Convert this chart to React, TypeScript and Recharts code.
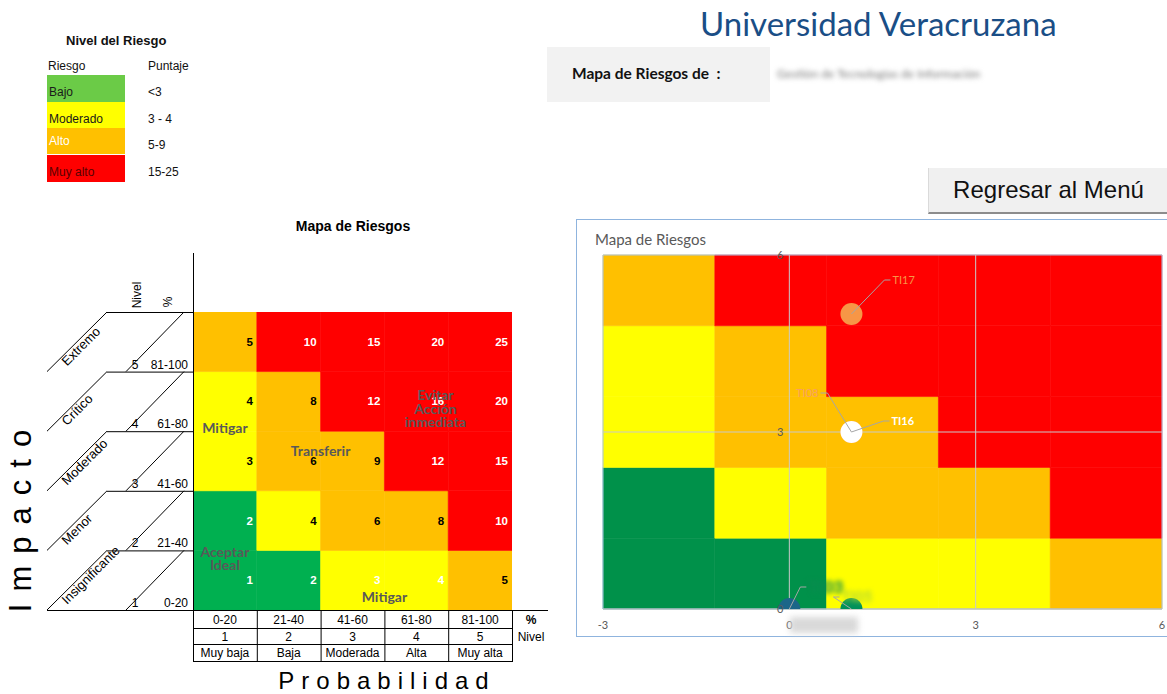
import React from 'react';
import {
  ScatterChart,
  Scatter,
  XAxis,
  YAxis,
  ReferenceArea,
  ReferenceLine,
  ReferenceDot,
} from 'recharts';

// ---- data ----
const levels = [1, 2, 3, 4, 5];
const impactNames = ['Insignificante', 'Menor', 'Moderado', 'Crítico', 'Extremo'];
const rangeLabels = ['0-20', '21-40', '41-60', '61-80', '81-100'];
const probNames = ['Muy baja', 'Baja', 'Moderada', 'Alta', 'Muy alta'];

// zone of each cell: rows = impact 1..5, cols = probability 1..5
const zoneRows = [
  ['bajo', 'bajo', 'moderado', 'moderado', 'alto'],
  ['bajo', 'moderado', 'alto', 'alto', 'muyAlto'],
  ['moderado', 'alto', 'alto', 'muyAlto', 'muyAlto'],
  ['moderado', 'alto', 'muyAlto', 'muyAlto', 'muyAlto'],
  ['alto', 'muyAlto', 'muyAlto', 'muyAlto', 'muyAlto'],
];
// scores printed white on a yellow cell
const whiteOnYellow = ['3-1', '4-1'];

const legendLabels = ['Bajo', 'Moderado', 'Alto', 'Muy alto'];
const legendScores = ['<3', '3 - 4', '5-9', '15-25'];

const actionNotes = [
  { text: 'Mitigar', x: 0.5, y: 3.05 },
  { text: 'Transferir', x: 2.0, y: 2.67 },
  { text: 'Evitar', x: 3.8, y: 3.6 },
  { text: 'Acción', x: 3.8, y: 3.38 },
  { text: 'inmediata', x: 3.8, y: 3.16 },
  { text: 'Aceptar', x: 0.5, y: 0.98 },
  { text: 'Ideal', x: 0.5, y: 0.75 },
  { text: 'Mitigar', x: 3.0, y: 0.22 },
];

// right-hand chart: block edges and risks
const xEdges = [-3, -1.2, 0.6, 2.4, 4.2, 6];
const yEdges = [0, 1.2, 2.4, 3.6, 4.8, 6];
const xTicks = [-3, 0, 3, 6];
const yTicks = [0, 3, 6];

const risks = [
  { id: 'TI17', prob: 1, impact: 5, color: '#F79646' },
  { id: 'TI08', prob: 1, impact: 3, color: '#F79646' },
  { id: 'TI16', prob: 1, impact: 3, color: '#FFFFFF' },
  { id: 'TI03', prob: 0, impact: 0, color: '#1B6688' },
  { id: 'TI05', prob: 1, impact: 0, color: '#00915A' },
];

// ---- styling ----
const zoneFill: Record<string, string> = {
  bajo: '#00B050',
  moderado: '#FFFF00',
  alto: '#FFC000',
  muyAlto: '#FF0000',
};
const zoneFillRight: Record<string, string> = { ...zoneFill, bajo: '#00914A' };
const legendFill = ['#6BCB47', '#FFFF00', '#FFC000', '#FF0000'];
const legendText = ['#1a1a1a', '#1a1a1a', '#FFFFFF', '#5a0000'];
const legendTop = [75, 102, 128, 155];
const legendTextTop = [85, 112, 134, 165];

const labelPlacement: Record<string, any> = {
  TI17: { dx: 33, dy: -34, color: '#F79646', weight: 400, size: 11 },
  TI16: { dx: 32, dy: -11, color: '#FFFFFF', weight: 700, size: 11 },
  TI08: { dx: -24, dy: -39, color: '#F8A060', weight: 400, size: 11, left: true },
  TI03: { dx: 11, dy: -22, color: '#0a8a50', weight: 900, size: 17, blur: true },
  TI05: { dx: -18, dy: -12, color: '#b5d930', weight: 900, size: 15, blur: true },
};

const arial = '"Liberation Sans", Arial, sans-serif';
const calibri = 'Lato, "Open Sans", sans-serif';

const ROW_H = 298 / 5;
const COL_W = 319 / 5;
const GRID_L = 193;
const GRID_T = 312;

// cell centres, used only to give the left matrix a data series
const cellCentres = levels.flatMap(impact =>
  levels.map(prob => ({ x: prob - 0.5, y: impact - 0.5 }))
);

function RiskDot(props: any) {
  const { cx, cy, payload } = props;
  if (cx == null || cy == null) return null;
  return <circle cx={cx} cy={cy} r={11} fill={payload.color} />;
}

function RiskLabel(props: any) {
  const { cx, cy, payload } = props;
  if (cx == null || cy == null) return null;
  const p = labelPlacement[payload.id];
  const ex = cx + p.dx;
  const ey = cy + p.dy;
  const hx = p.left ? ex - 7 : ex + 6;
  return (
    <g>
      <polyline
        points={`${cx},${cy} ${ex},${ey} ${hx},${ey}`}
        fill="none"
        stroke="#A6A6A6"
        strokeWidth={1}
      />
      <text
        x={p.left ? hx - 2 : hx + 2}
        y={ey}
        dy="0.35em"
        textAnchor={p.left ? 'end' : 'start'}
        fill={p.color}
        fontSize={p.size}
        fontWeight={p.weight}
        fontFamily={calibri}
        style={p.blur ? { filter: 'blur(2.5px)' } : undefined}
      >
        {payload.id}
      </text>
    </g>
  );
}

const NoMark = () => <g />;

function LeftMatrix() {
  return (
    <div style={{ position: 'absolute', left: GRID_L, top: GRID_T }}>
      <ScatterChart width={319} height={298} margin={{ top: 0, right: 0, bottom: 0, left: 0 }}>
        <XAxis type="number" dataKey="x" domain={[0, 5]} hide />
        <YAxis type="number" dataKey="y" domain={[0, 5]} hide />
        {zoneRows.map((row, ri) =>
          row.map((zone, ci) => {
            const impact = levels[ri];
            const prob = levels[ci];
            const white =
              zone === 'bajo' || zone === 'muyAlto' || whiteOnYellow.includes(`${prob}-${impact}`);
            return (
              <ReferenceArea
                key={`${ri}-${ci}`}
                x1={prob - 1}
                x2={prob}
                y1={impact - 1}
                y2={impact}
                fill={zoneFill[zone]}
                fillOpacity={1}
                stroke={zoneFill[zone]}
                strokeWidth={0.6}
                label={{
                  value: prob * impact,
                  position: 'insideRight',
                  offset: 4,
                  fill: white ? '#FFFFFF' : '#000000',
                  fontSize: 11.5,
                  fontWeight: 700,
                  fontFamily: arial,
                }}
              />
            );
          })
        )}
        {actionNotes.map((n, i) => (
          <ReferenceDot
            key={i}
            x={n.x}
            y={n.y}
            r={0}
            stroke="none"
            label={{
              value: n.text,
              position: 'center',
              fill: '#595959',
              fontSize: 14,
              fontWeight: 700,
              fontFamily: calibri,
            }}
          />
        ))}
        <Scatter data={cellCentres} shape={NoMark} isAnimationActive={false} />
      </ScatterChart>
    </div>
  );
}

function LeftFrame() {
  const rows = levels.map((lv, i) => {
    const yt = GRID_T + (4 - i) * ROW_H;
    return { lv, i, yt, yb: yt + ROW_H };
  });
  const tableRows = [628, 644, 661];
  return (
    <svg
      width={1167}
      height={694}
      style={{ position: 'absolute', left: 0, top: 0, pointerEvents: 'none' }}
      fontFamily={arial}
    >
      <line x1={193.5} y1={253} x2={193.5} y2={661} stroke="#000" />
      {rows.map(r => (
        <g key={r.lv}>
          <line x1={107} y1={r.yt + 0.5} x2={193} y2={r.yt + 0.5} stroke="#000" />
          <line x1={107} y1={r.yt} x2={47} y2={r.yb} stroke="#000" />
          <line x1={184} y1={r.yt} x2={126} y2={r.yb} stroke="#000" />
          <text
            x={67}
            y={r.yb - 5}
            fontSize={13}
            transform={`rotate(-45 67 ${r.yb - 5})`}
          >
            {impactNames[r.i]}
          </text>
          <text x={135} y={r.yb - 3} fontSize={12} textAnchor="middle">
            {r.lv}
          </text>
          <text x={188} y={r.yb - 3} fontSize={12} textAnchor="end">
            {rangeLabels[r.i]}
          </text>
        </g>
      ))}
      <line x1={47} y1={610.5} x2={548} y2={610.5} stroke="#000" />
      {tableRows.map(y => (
        <line key={y} x1={193} y1={y + 0.5} x2={513} y2={y + 0.5} stroke="#000" />
      ))}
      {levels.map((lv, i) => (
        <g key={lv}>
          <line
            x1={GRID_L + (i + 1) * COL_W + 0.5}
            y1={610}
            x2={GRID_L + (i + 1) * COL_W + 0.5}
            y2={661}
            stroke="#000"
          />
          <text x={GRID_L + (i + 0.5) * COL_W} y={624} fontSize={12} textAnchor="middle">
            {rangeLabels[i]}
          </text>
          <text x={GRID_L + (i + 0.5) * COL_W} y={641} fontSize={12} textAnchor="middle">
            {lv}
          </text>
          <text x={GRID_L + (i + 0.5) * COL_W} y={657} fontSize={12} textAnchor="middle">
            {probNames[i]}
          </text>
        </g>
      ))}
      <text x={531} y={624} fontSize={12} textAnchor="middle" fontWeight={700}>
        %
      </text>
      <text x={531} y={641} fontSize={12} textAnchor="middle">
        Nivel
      </text>
      <text x={141} y={295} fontSize={12} textAnchor="middle" transform="rotate(-90 141 295)">
        Nivel
      </text>
      <text x={172} y={302} fontSize={12} textAnchor="middle" transform="rotate(-90 172 302)">
        %
      </text>
      <text x={353} y={231} fontSize={14} fontWeight={700} textAnchor="middle">
        Mapa de Riesgos
      </text>
      <text x={387} y={689} fontSize={24} textAnchor="middle" letterSpacing={7}>
        Probabilidad
      </text>
      <text
        x={31}
        y={515}
        fontSize={31}
        textAnchor="middle"
        letterSpacing={12}
        transform="rotate(-90 31 515)"
      >
        Impacto
      </text>
    </svg>
  );
}

function RightChart() {
  return (
    <>
      <div
        style={{
          position: 'absolute',
          left: 576,
          top: 219,
          width: 600,
          height: 416,
          border: '1px solid #8FB4DE',
          background: '#fff',
        }}
      />
      <div
        style={{
          position: 'absolute',
          left: 595,
          top: 230,
          fontFamily: calibri,
          fontSize: 15,
          color: '#595959',
        }}
      >
        Mapa de Riesgos
      </div>
      <div style={{ position: 'absolute', left: 576, top: 219 }}>
        <ScatterChart width={600} height={420} margin={{ top: 36, right: 14, bottom: 0, left: 27 }}>
          <XAxis
            type="number"
            dataKey="prob"
            domain={[-3, 6]}
            ticks={xTicks}
            allowDataOverflow
            axisLine={{ stroke: '#BFBFBF' }}
            tickLine={false}
            tickMargin={6}
            height={30}
            tick={{ fill: '#595959', fontSize: 11, fontFamily: calibri }}
          />
          <YAxis
            type="number"
            dataKey="impact"
            domain={[0, 6]}
            ticks={yTicks}
            allowDataOverflow
            hide
          />
          {zoneRows.map((row, ri) =>
            row.map((zone, ci) => (
              <ReferenceArea
                key={`r${ri}-${ci}`}
                x1={xEdges[ci]}
                x2={xEdges[ci + 1]}
                y1={yEdges[ri]}
                y2={yEdges[ri + 1]}
                fill={zoneFillRight[zone]}
                fillOpacity={1}
                stroke={zoneFillRight[zone]}
                strokeWidth={0.6}
              />
            ))
          )}
          {xTicks.slice(1, -1).map(t => (
            <ReferenceLine key={`x${t}`} x={t} stroke="#C9C9C9" strokeWidth={1} />
          ))}
          {yTicks.slice(1, -1).map(t => (
            <ReferenceLine key={`y${t}`} y={t} stroke="#C9C9C9" strokeWidth={1} />
          ))}
          <ReferenceArea
            x1={-3}
            x2={6}
            y1={0}
            y2={6}
            fill="none"
            fillOpacity={0}
            stroke="#A9C4E4"
          />
          {yTicks.map(t => (
            <ReferenceDot
              key={`yl${t}`}
              x={0}
              y={t}
              r={0}
              stroke="none"
              ifOverflow="visible"
              label={{
                value: t,
                position: 'left',
                offset: 6,
                fill: '#595959',
                fontSize: 11,
                fontFamily: calibri,
              }}
            />
          ))}
          <Scatter data={risks} shape={RiskDot} isAnimationActive={false} />
          <Scatter data={risks} shape={RiskLabel} isAnimationActive={false} />
        </ScatterChart>
      </div>
      <div
        style={{
          position: 'absolute',
          left: 790,
          top: 617,
          width: 68,
          height: 16,
          background: '#D9D9D9',
          filter: 'blur(3px)',
        }}
      />
    </>
  );
}

function Header() {
  return (
    <>
      <div
        style={{
          position: 'absolute',
          left: 700,
          top: 3,
          fontFamily: calibri,
          fontSize: 33,
          color: '#1A4E86',
        }}
      >
        Universidad Veracruzana
      </div>
      <div
        style={{
          position: 'absolute',
          left: 547,
          top: 47,
          width: 223,
          height: 55,
          background: '#F2F2F2',
        }}
      />
      <div
        style={{
          position: 'absolute',
          left: 572,
          top: 64,
          fontFamily: calibri,
          fontSize: 15.5,
          fontWeight: 700,
          color: '#111',
          whiteSpace: 'pre',
        }}
      >
        {'Mapa de Riesgos de  :'}
      </div>
      <div
        style={{
          position: 'absolute',
          left: 777,
          top: 66,
          fontFamily: calibri,
          fontSize: 12,
          color: '#777',
          filter: 'blur(2.5px)',
          whiteSpace: 'nowrap',
        }}
      >
        Gestión de Tecnologías de Información
      </div>
      <div
        style={{
          position: 'absolute',
          left: 928,
          top: 168,
          width: 239,
          height: 44,
          background: '#F0F0F0',
          borderBottom: '2px solid #8C8C8C',
          borderLeft: '1px solid #DADADA',
          fontFamily: arial,
          fontSize: 24,
          lineHeight: '44px',
          textAlign: 'center',
          color: '#111',
        }}
      >
        Regresar al Menú
      </div>
    </>
  );
}

function Legend() {
  return (
    <div style={{ fontFamily: arial, fontSize: 12, color: '#111' }}>
      <div style={{ position: 'absolute', left: 66, top: 33, fontWeight: 700, fontSize: 13 }}>
        Nivel del Riesgo
      </div>
      <div style={{ position: 'absolute', left: 48, top: 59 }}>Riesgo</div>
      <div style={{ position: 'absolute', left: 148, top: 59 }}>Puntaje</div>
      {legendLabels.map((lab, i) => (
        <React.Fragment key={lab}>
          <div
            style={{
              position: 'absolute',
              left: 47,
              top: legendTop[i],
              width: 78,
              height: i === 0 || i === 3 ? 27 : 26,
              background: legendFill[i],
            }}
          />
          <div
            style={{ position: 'absolute', left: 49, top: legendTextTop[i], color: legendText[i] }}
          >
            {lab}
          </div>
          <div style={{ position: 'absolute', left: 148, top: legendTextTop[i] + (i === 2 ? 4 : 0) }}>
            {legendScores[i]}
          </div>
        </React.Fragment>
      ))}
    </div>
  );
}

export default function App() {
  return (
    <div
      style={{
        position: 'fixed',
        left: 0,
        top: 0,
        width: 1167,
        height: 694,
        overflow: 'hidden',
        background: '#fff',
      }}
    >
      <Legend />
      <Header />
      <LeftMatrix />
      <LeftFrame />
      <RightChart />
    </div>
  );
}
